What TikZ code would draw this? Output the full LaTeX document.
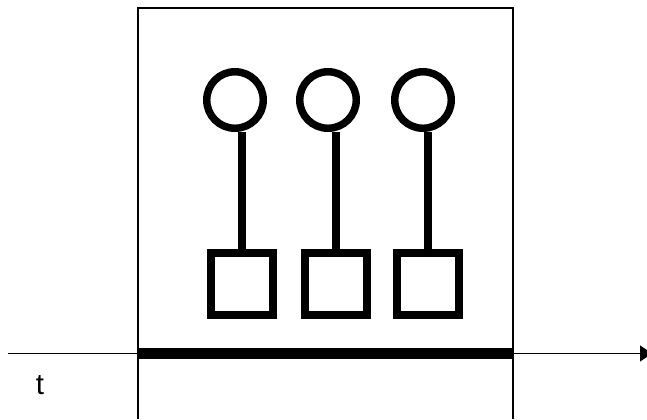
\documentclass[tikz,border=0pt]{standalone}
\usepackage{fontspec}
\setmainfont{Liberation Sans}
\usetikzlibrary{arrows.meta}

\tikzset{
  head/.style={draw, circle, line width=5.6pt, inner sep=0pt, minimum size=42.4pt},
  foot/.style={draw, rectangle, line width=6pt, inner sep=0pt, minimum size=46.5pt},
  stem/.style={line width=6pt},
}

\begin{document}
\begin{tikzpicture}[x=0.75pt,y=-0.75pt]
\useasboundingbox (0,0) rectangle (647,419);

% Frame
\draw[line width=1.5pt] (138,419) -- (138,8) -- (513,8) -- (513,419);

% Time axis
\coordinate (tstart) at (8,353.5);
\coordinate (tend) at (652,353.5);
\draw[line width=1.1pt, -{Triangle[length=9pt,width=12pt]}] (tstart) -- (tend);
\coordinate (bstart) at (138,353.5);
\coordinate (bend) at (513,353.5);
\draw[line width=8.25pt] (bstart) -- (bend);
\node[font=\fontsize{22}{26}\selectfont] (tlabel) at (40,385) {t};

% Heads, stems and feet
\foreach \i/\cx/\sx in {1/235/242, 2/328/336, 3/423/428} {
    \node[head] (c\i) at (\cx,100) {};
    \node[foot] (s\i) at (\sx,284) {};
    \draw[stem] (s\i.north) -- (s\i.north |- c\i.south);
}

\end{tikzpicture}
\end{document}
